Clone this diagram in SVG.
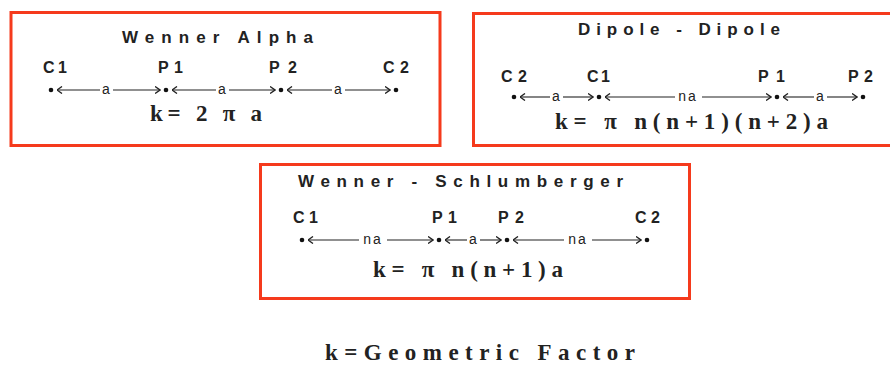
<svg xmlns="http://www.w3.org/2000/svg" width="890" height="369" viewBox="0 0 890 369">
<defs>
<marker id="ah" viewBox="0 0 6 8" refX="5.5" refY="4" markerWidth="6" markerHeight="8" markerUnits="userSpaceOnUse" orient="auto-start-reverse">
<path d="M0.5,0.5 L5.5,4 L0.5,7.5" fill="none" stroke="#222" stroke-width="1.4"/>
</marker>
</defs>
<style>
.box{fill:#fff;stroke:#f53a1c;stroke-width:3}
.title{font-family:"Liberation Sans",Arial,sans-serif;font-weight:bold;font-size:17px;fill:#222}
.lbl{font-family:"Liberation Sans",Arial,sans-serif;font-weight:bold;font-size:16px;fill:#222}
.dist{font-family:"Liberation Sans",Arial,sans-serif;font-size:14px;fill:#222;text-anchor:middle}
.frm{font-family:"Liberation Serif","Times New Roman",serif;font-weight:bold;font-size:23px;fill:#222}
.dot{fill:#111}
.al{stroke:#222;stroke-width:1.1;fill:none;marker-start:url(#ah)}
.ar{stroke:#222;stroke-width:1.1;fill:none;marker-end:url(#ah)}
</style>
<rect width="890" height="369" fill="#fff"/>

<g id="wenner-alpha">
<rect class="box" x="11" y="12.5" width="429" height="133"/>
<text class="title" x="122" y="43" textLength="191" lengthAdjust="spacing">Wenner Alpha</text>
<text class="lbl" x="43" y="73" textLength="24" lengthAdjust="spacing">C1</text>
<text class="lbl" x="158" y="73" textLength="25" lengthAdjust="spacing">P1</text>
<text class="lbl" x="269" y="73" textLength="28" lengthAdjust="spacing">P2</text>
<text class="lbl" x="383" y="73" textLength="26" lengthAdjust="spacing">C2</text>
<circle class="dot" cx="51" cy="90" r="2.3"/>
<circle class="dot" cx="166" cy="90" r="2.3"/>
<circle class="dot" cx="281" cy="90" r="2.3"/>
<circle class="dot" cx="396" cy="90" r="2.3"/>
<text class="dist" x="106" y="94">a</text>
<text class="dist" x="222" y="94">a</text>
<text class="dist" x="338" y="94">a</text>
<text class="frm" x="150" y="121" textLength="112" lengthAdjust="spacing">k= 2 π a</text>
</g>

<g id="dipole-dipole">
<rect class="box" x="473.5" y="13.5" width="430" height="132"/>
<text class="title" x="578" y="35" textLength="202" lengthAdjust="spacing">Dipole - Dipole</text>
<text class="lbl" x="501" y="82" textLength="26" lengthAdjust="spacing">C2</text>
<text class="lbl" x="587" y="82" textLength="23" lengthAdjust="spacing">C1</text>
<text class="lbl" x="758" y="82" textLength="27" lengthAdjust="spacing">P1</text>
<text class="lbl" x="848" y="82" textLength="25" lengthAdjust="spacing">P2</text>
<circle class="dot" cx="514" cy="97" r="2.3"/>
<circle class="dot" cx="599" cy="97" r="2.3"/>
<circle class="dot" cx="777" cy="97" r="2.3"/>
<circle class="dot" cx="863" cy="97" r="2.3"/>
<text class="dist" x="556" y="101">a</text>
<text class="dist" x="688" y="101" letter-spacing="2">na</text>
<text class="dist" x="820" y="101">a</text>
<text class="frm" x="555" y="129" textLength="273" lengthAdjust="spacing">k= π n(n+1)(n+2)a</text>
</g>

<g id="wenner-schlumberger">
<rect class="box" x="260.5" y="164.5" width="429" height="134"/>
<text class="title" x="298" y="187" textLength="325" lengthAdjust="spacing">Wenner - Schlumberger</text>
<text class="lbl" x="293" y="223" textLength="25" lengthAdjust="spacing">C1</text>
<text class="lbl" x="432" y="223" textLength="25" lengthAdjust="spacing">P1</text>
<text class="lbl" x="498" y="223" textLength="26" lengthAdjust="spacing">P2</text>
<text class="lbl" x="635" y="223" textLength="25" lengthAdjust="spacing">C2</text>
<circle class="dot" cx="302" cy="240" r="2.3"/>
<circle class="dot" cx="439" cy="240" r="2.3"/>
<circle class="dot" cx="507" cy="240" r="2.3"/>
<circle class="dot" cx="647" cy="240" r="2.3"/>
<text class="dist" x="373" y="244" letter-spacing="2">na</text>
<text class="dist" x="473" y="244">a</text>
<text class="dist" x="578" y="244" letter-spacing="2">na</text>
<text class="frm" x="373" y="277" textLength="190" lengthAdjust="spacing">k= π n(n+1)a</text>
</g>

<g id="connectors">
<line class="al" x1="57" y1="90" x2="100" y2="90"/>
<line class="ar" x1="113" y1="90" x2="160" y2="90"/>
<line class="al" x1="172" y1="90" x2="216" y2="90"/>
<line class="ar" x1="229" y1="90" x2="275" y2="90"/>
<line class="al" x1="287" y1="90" x2="332" y2="90"/>
<line class="ar" x1="345" y1="90" x2="390" y2="90"/>

<line class="al" x1="520" y1="97" x2="550" y2="97"/>
<line class="ar" x1="563" y1="97" x2="593" y2="97"/>
<line class="al" x1="605" y1="97" x2="675" y2="97"/>
<line class="ar" x1="702" y1="97" x2="771" y2="97"/>
<line class="al" x1="783" y1="97" x2="814" y2="97"/>
<line class="ar" x1="827" y1="97" x2="857" y2="97"/>

<line class="al" x1="308" y1="240" x2="359" y2="240"/>
<line class="ar" x1="387" y1="240" x2="433" y2="240"/>
<line class="al" x1="445" y1="240" x2="467" y2="240"/>
<line class="ar" x1="480" y1="240" x2="501" y2="240"/>
<line class="al" x1="513" y1="240" x2="564" y2="240"/>
<line class="ar" x1="592" y1="240" x2="641" y2="240"/>
</g>

<text class="frm" x="325" y="360" font-size="19" textLength="310" lengthAdjust="spacing">k=Geometric Factor</text>
</svg>
